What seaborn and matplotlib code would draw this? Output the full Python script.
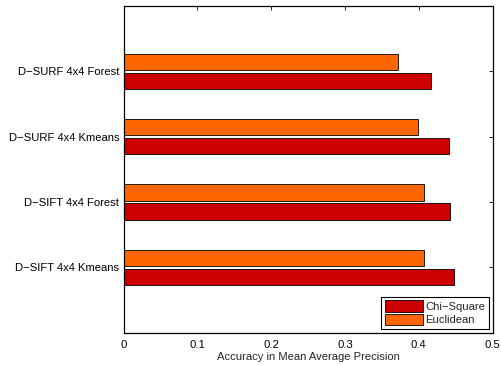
import matplotlib
matplotlib.use("Agg")
import matplotlib.pyplot as plt
import seaborn as sns
import pandas as pd

sns.set_theme(style="white")
plt.rcParams["font.family"] = ["Liberation Sans", "DejaVu Sans"]

# Methods, listed top to bottom
categories = ["D−SURF 4x4 Forest", "D−SURF 4x4 Kmeans",
              "D−SIFT 4x4 Forest", "D−SIFT 4x4 Kmeans"]
chi_square = [0.416, 0.441, 0.443, 0.4485]
euclidean = [0.372, 0.3995, 0.407, 0.407]
series_names = ["Chi−Square", "Euclidean"]
x_ticks = [0, 0.1, 0.2, 0.3, 0.4, 0.5]
x_tick_labels = ["0", "0.1", "0.2", "0.3", "0.4", "0.5"]

df = pd.DataFrame({
    "method": categories * 2,
    "map": chi_square + euclidean,
    "metric": [series_names[0]] * len(categories) + [series_names[1]] * len(categories),
})

palette = {series_names[0]: "#CC0000", series_names[1]: "#FF6600"}
fs = 8.1

fig = plt.figure(figsize=(5.01, 3.65), dpi=100)
ax = fig.add_axes([123.5 / 501, 1 - 332.7 / 365, (492.5 - 123.5) / 501, (332.7 - 6) / 365])

sns.barplot(data=df, y="method", x="map", hue="metric", orient="h",
            hue_order=[series_names[1], series_names[0]], palette=palette,
            width=0.58, gap=0.15, edgecolor="black", linewidth=0.6,
            saturation=1, legend=True, ax=ax)

ax.set_xlim(0, 0.5)
ax.set_ylim(4, -1)
ax.set_xticks(x_ticks)
ax.set_xticklabels(x_tick_labels)
ax.set_xlabel("Accuracy in Mean Average Precision", fontsize=fs, labelpad=1)
ax.set_ylabel("")

for s in ax.spines.values():
    s.set_visible(True)
    s.set_color("black")
    s.set_linewidth(0.9)

ax.tick_params(axis="both", which="both", direction="in", length=3, width=0.6,
               colors="black", labelsize=fs, top=True, right=True)
ax.tick_params(axis="x", pad=5.5)
ax.tick_params(axis="y", pad=3)

handles, labels = ax.get_legend_handles_labels()
order = [labels.index(n) for n in series_names]
leg = ax.legend([handles[i] for i in order], [labels[i] for i in order],
                loc="lower right", fontsize=fs, frameon=True, fancybox=False,
                edgecolor="black", framealpha=1, borderpad=0.3,
                handlelength=3.4, handleheight=1.2, handletextpad=0.2,
                labelspacing=0.2, borderaxespad=0.35)
leg.get_frame().set_linewidth(0.8)

fig.savefig("out.png", dpi=100)
